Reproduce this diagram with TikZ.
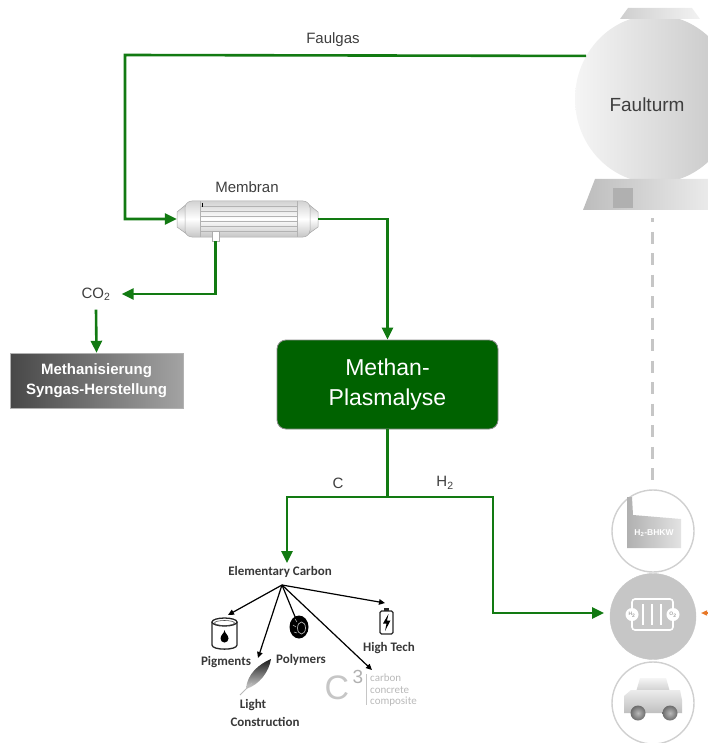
\documentclass[tikz,border=0pt]{standalone}
\usepackage{fontspec}
\setmainfont{Liberation Sans}
\newfontfamily\carlito{Carlito}
\usetikzlibrary{arrows.meta,shapes.geometric,calc}
\definecolor{flowgreen}{RGB}{18,122,18}
\definecolor{plasmagreen}{RGB}{0,98,0}
\definecolor{labelgray}{RGB}{62,62,62}
\definecolor{ringgray}{RGB}{208,208,208}
\definecolor{cellgray}{RGB}{198,198,198}
\definecolor{iconorange}{RGB}{232,120,40}
\tikzset{
  gline/.style={draw=flowgreen, line width=2.6pt},
  garrow/.style={gline, -{Triangle[length=12pt,width=11pt]}},
  lbl/.style={text=labelgray, font=\fontsize{15}{17}\selectfont, inner sep=1pt},
  fanarrow/.style={draw=black, line width=1.2pt, -{Triangle[length=6pt,width=5.5pt]}},
  iconlbl/.style={text=black!78, font=\carlito\bfseries\fontsize{13}{14}\selectfont, inner sep=0pt},
  icon/.style={draw=black!85, line width=1.3pt},
  ring/.style={circle, draw=ringgray, line width=1.4pt, fill=white, inner sep=0pt},
  c3txt/.style={text=gray!55, font=\carlito\fontsize{11}{11}\selectfont, inner sep=0pt, anchor=west},
}
\begin{document}
\begin{tikzpicture}[x=1pt,y=-1pt]
\useasboundingbox (0,0) rectangle (707,743);

% ---------- digester tower ----------
\node[ellipse, minimum width=160, minimum height=168, inner sep=0pt,
      shade, left color=gray!8, right color=gray!45] (tower) at (655,99) {};
\shade[left color=gray!38, right color=gray!10] (628,8) -- (692,8) -- (700,19) -- (620,19) -- cycle;
\shade[left color=gray!52, right color=gray!8] (595,179) -- (725,179) -- (737,210) -- (583,210) -- cycle;
\fill[gray!62] (613,188) rectangle (633,208);
\node[lbl, font=\fontsize{19}{21}\selectfont] (ftlabel) at (647,105) {Faulturm};
\coordinate (ftout) at (tower.148);

% link between tower and the consumer column
\coordinate (dashtop) at (652,218);
\coordinate (dashbot) at (652,482);
\draw[gray!45, line width=3pt, dash pattern=on 12pt off 9.5pt, dash phase=8pt] (dashtop) -- (dashbot);

% ---------- membrane module ----------
\node[minimum width=141, minimum height=35, inner sep=0pt] (mem) at (247.5,219) {};
\shade[top color=gray!50, bottom color=gray!50, middle color=white, draw=gray!70, line width=0.5pt]
  (177,212) -- (188,203) -- (188,235) -- (177,227) -- cycle;
\shade[top color=gray!50, bottom color=gray!50, middle color=white, draw=gray!70, line width=0.5pt]
  (318,212) -- (307,203) -- (307,235) -- (318,227) -- cycle;
\shade[top color=gray!35, bottom color=gray!45, middle color=white, draw=gray!65, line width=0.5pt,
  rounded corners=7pt] (185,201) rectangle (310,237);
\draw[gray!60, line width=0.6pt] (200,201.5) -- (200,236.5) (297,201.5) -- (297,236.5);
\foreach \yy in {206,211,216,221,226,231}
  \draw[gray!60, line width=0.6pt] (200,\yy) -- (297,\yy);
\draw[black, line width=1pt] (202,203) -- (202,207);
\draw[gray!65, fill=white, line width=0.6pt] (212,231) rectangle (219,241);
\coordinate (memb) at (215.5,241);
\node[lbl] (memlabel) at (247,187) {Membran};

% ---------- process boxes ----------
\node[rectangle, minimum width=221, minimum height=89, rounded corners=9pt,
      fill=plasmagreen, draw=black!45, line width=0.8pt, text=white, align=center,
      font=\fontsize{23}{30}\selectfont] (mp) at (387.5,384.5) {Methan-\\Plasmalyse};

\node[rectangle, minimum width=173, minimum height=55, inner sep=0pt,
      shade, left color=black!72, right color=black!36,
      draw=gray!60, line width=0.4pt, text=white, align=center,
      font=\bfseries\fontsize{15}{20}\selectfont] (meth) at (96.5,380.5) {Methanisierung\\Syngas-Herstellung};

\node[lbl, inner xsep=11pt, inner ysep=9pt] (co2) at (96,294) {CO\textsubscript{2}};

% ---------- labels of the gas flows ----------
\node[lbl] (faulgas) at (333,40) {Faulgas};
\node[lbl] (clabel) at (338,483) {C};
\node[lbl] (hlabel) at (445,483) {H\textsubscript{2}};

% ---------- flows ----------
\coordinate (fgc) at (125,55);
\draw[garrow] (ftout) -- (fgc) |- (mem.west);
\draw[garrow] (mem.east) -| (mp.north);
\draw[garrow] (memb) |- (co2.east);
\draw[garrow] (co2.south) -- (meth.north);

\coordinate (split) at (387.5,497);
\coordinate (ecin) at (287,563);
\coordinate (hbend) at (493,613);
\coordinate (fcin) at (604,613);
\draw[gline] (mp.south) -- (split);
\draw[garrow] (split) -| (ecin);
\draw[garrow] (split) -| (hbend) -- (fcin);

% ---------- consumers ----------
\node[ring, minimum size=82] (bhkw) at (653,531) {};
\node[circle, fill=cellgray, draw=cellgray, minimum size=86, inner sep=0pt] (fc) at (653,616.5) {};
\node[ring, minimum size=82] (car) at (653,703) {};

% combined heat and power unit
\shade[left color=gray!62, right color=gray!22]
  (627,548) -- (627,497) -- (632,497) -- (633,515) -- (681,519) -- (681,548) -- cycle;
\node[text=white, font=\bfseries\fontsize{8.5}{9}\selectfont, inner sep=0pt] (bhkwtxt) at (654,533) {H\textsubscript{2}-BHKW};

% fuel cell
\draw[white, line width=1.6pt, rounded corners=3pt] (632,599) rectangle (673,630);
\foreach \xx in {643,652,661}
  \draw[white, line width=1.6pt] (\xx,604) -- (\xx,625);
\node[circle, fill=white, minimum size=13, inner sep=0pt, text=gray!70,
      font=\bfseries\fontsize{5}{5}\selectfont] (hcell) at (632,614.5) {H\textsubscript{2}};
\node[circle, fill=white, minimum size=13, inner sep=0pt, text=gray!70,
      font=\bfseries\fontsize{5}{5}\selectfont] (ocell) at (673,614.5) {O\textsubscript{2}};
\coordinate (orsrc) at (716,613);
\coordinate (ortip) at (701,613);
\draw[iconorange, line width=1.4pt, -{Triangle[length=6pt,width=5pt]}] (orsrc) -- (ortip);

% car
\shade[top color=gray!8, bottom color=gray!40] (636,692) -- (640,678) -- (666,678) -- (670,692) -- cycle;
\shade[top color=gray!15, bottom color=gray!50]
  (624,713) -- (624,696) -- (631,690) -- (680,690) -- (682,700) -- (682,713) -- cycle;
\shade[inner color=gray!55, outer color=gray!85!black] (638,713) circle[radius=7.5];
\shade[inner color=gray!55, outer color=gray!85!black] (670,713) circle[radius=7.5];

% ---------- carbon products ----------
\node[iconlbl] (ec) at (280,572) {Elementary Carbon};
\coordinate (fan) at (282,585);
\coordinate (tpig) at (228,615);
\coordinate (tlight) at (258,658);
\coordinate (tpoly) at (298,624);
\coordinate (tc3) at (372,670);
\coordinate (thigh) at (385,603);
\foreach \tip in {tpig,tlight,tpoly,tc3,thigh}
  \draw[fanarrow] (fan) -- (\tip);

% paint can
\draw[icon] (212,622) -- (212,645) .. controls (212,650.5) and (237,650.5) .. (237,645) -- (237,622);
\draw[icon] (224.5,622) ellipse[x radius=12.5, y radius=4];
\draw[black!70, line width=0.6pt] (224.5,623) ellipse[x radius=10, y radius=2.5];
\fill[black] (224.5,630) .. controls (224.5,633) and (220.5,635) .. (220.5,638.5)
  .. controls (220.5,641) and (222.5,642.5) .. (224.5,642.5)
  .. controls (226.5,642.5) and (228.5,641) .. (228.5,638.5)
  .. controls (228.5,635) and (224.5,633) .. (224.5,630) -- cycle;
\node[iconlbl] (pig) at (226,662) {Pigments};

% feather
\shade[top color=black!90, bottom color=gray!35]
  (246,689) .. controls (247,674) and (259,664) .. (271,659)
  .. controls (269,672) and (259,685) .. (246,689) -- cycle;
\draw[gray!55, line width=0.9pt] (240,695) -- (252,683);
\node[iconlbl] (light1) at (253,705) {Light};
\node[iconlbl] (light2) at (265,722) {Construction};

% tyre
\fill[black] (299,627) ellipse[x radius=9.5, y radius=11.5];
\draw[gray!60, line width=0.7pt] (301.5,628) ellipse[x radius=4, y radius=6];
\draw[gray!45, line width=0.5pt] (295,619) -- (297,622) (293,625) -- (296,627) (294,632) -- (297,633);
\node[iconlbl] (poly) at (301,660) {Polymers};

% battery
\draw[icon, rounded corners=1.5pt] (380,611) rectangle (393,634);
\fill[black!85] (384,607.5) rectangle (389,611);
\fill[black] (388.5,614) -- (383,623.5) -- (386.5,623.5) -- (385,631) -- (390.5,620.5) -- (387,620.5) -- cycle;
\node[iconlbl] (hightech) at (389,648) {High Tech};

% carbon concrete composite logo
\node[text=gray!45, font=\fontsize{34}{34}\selectfont, inner sep=0pt] (c3c) at (337,688) {C};
\node[text=gray!62, font=\fontsize{19}{19}\selectfont, inner sep=0pt] (c3n) at (358,677) {3};
\draw[gray!45, line width=0.8pt] (366,674) -- (366,705);
\node[c3txt] (c3a) at (370,678) {carbon};
\node[c3txt] (c3b) at (370,690) {concrete};
\node[c3txt] (c3d) at (370,702) {composite};
\end{tikzpicture}
\end{document}
